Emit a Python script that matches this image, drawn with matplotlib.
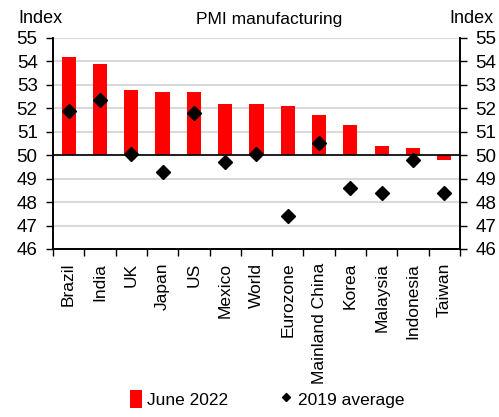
import numpy as np
import matplotlib
matplotlib.use("Agg")
import matplotlib.pyplot as plt
from matplotlib.lines import Line2D
from matplotlib.patches import Patch

plt.rcParams['font.family'] = ['Liberation Sans', 'DejaVu Sans']

countries = ['Brazil', 'India', 'UK', 'Japan', 'US', 'Mexico', 'World', 'Eurozone',
             'Mainland China', 'Korea', 'Malaysia', 'Indonesia', 'Taiwan']
june_2022 = [54.2, 53.9, 52.8, 52.7, 52.7, 52.2, 52.2, 52.1, 51.7, 51.3, 50.4, 50.3, 49.8]
avg_2019 = [51.9, 52.35, 50.05, 49.3, 51.8, 49.7, 50.05, 47.4, 50.5, 48.6, 48.4, 49.8, 48.4]
yticks = list(range(46, 56))

fig = plt.figure(figsize=(4.99, 4.17), dpi=100)
ax = fig.add_axes([0.106, 0.403, 0.816, 0.506])

x = np.arange(len(countries))
base = 50
ax.bar(x, np.array(june_2022) - base, bottom=base, width=0.45, color='#ff0000', zorder=2)
ax.plot(x, avg_2019, linestyle='none', marker='D', markersize=7, color='black', zorder=3)
ax.axhline(50, color='black', linewidth=1.2, zorder=2.5)

ax.set_ylim(46, 55)
ax.set_xlim(-0.5, len(countries) - 0.5)
ax.set_yticks(yticks)
ax.yaxis.grid(True, color='#d9d9d9', linewidth=1.5, zorder=0)
ax.set_axisbelow(True)

ax.set_xticks(x)
ax.set_xticklabels(countries, rotation=90, fontsize=12.5)
ax.tick_params(axis='x', length=0, pad=10)
ax.set_xticks(np.arange(-0.5, len(countries)), minor=True)
ax.tick_params(axis='x', which='minor', length=5, width=1, direction='out')
ax.tick_params(axis='y', labelsize=13.5, length=5, width=1, direction='out', pad=6)

ax2 = ax.twinx()
ax2.set_ylim(46, 55)
ax2.set_yticks(yticks)
ax2.tick_params(axis='y', labelsize=13.5, length=5, width=1, direction='out', pad=6)

for a in (ax, ax2):
    a.spines['top'].set_visible(False)
    for s in ('left', 'right', 'bottom'):
        a.spines[s].set_linewidth(1.2)

fig.text(0.036, 0.935, 'Index', fontsize=13, ha='left', va='bottom')
fig.text(0.988, 0.935, 'Index', fontsize=13, ha='right', va='bottom')
fig.text(0.539, 0.935, 'PMI manufacturing', fontsize=12.5, ha='center', va='bottom')

handles = [Patch(facecolor='#ff0000', edgecolor='none', label='June 2022'),
           Line2D([], [], linestyle='none', marker='D', markersize=4, color='black',
                  label='2019 average')]
fig.legend(handles=handles, loc='lower center', bbox_to_anchor=(0.535, -0.015), ncol=2,
           frameon=False, fontsize=12.5, handlelength=0.7, handleheight=1.2,
           handletextpad=0.3, columnspacing=3.0)

fig.savefig('out.png', dpi=100)
